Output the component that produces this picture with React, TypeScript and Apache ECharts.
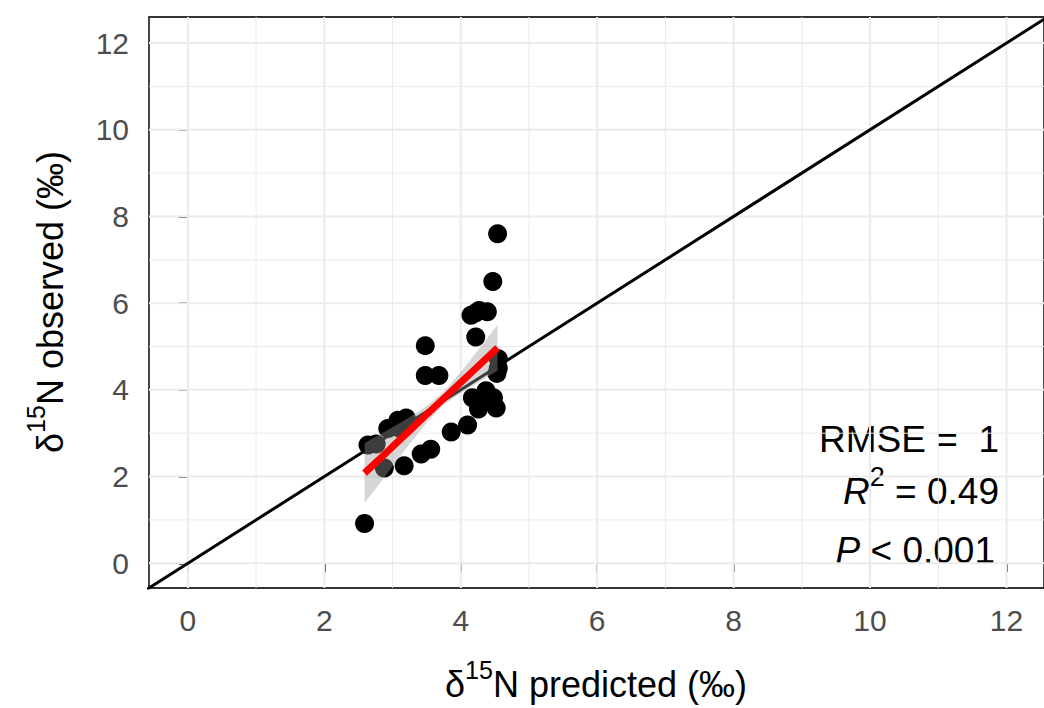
import React, { useEffect, useRef } from "react";
import * as echarts from "echarts";

// Observed vs predicted δ15N (‰)
const predicted = [
  4.54, 4.47, 4.15, 4.27, 4.39, 4.22, 4.22, 3.48, 3.48, 3.68,
  4.55, 4.55, 4.53, 4.17, 4.37, 4.48, 4.26, 4.52, 4.1, 3.86,
  4.3, 2.59, 2.88, 3.17, 3.42, 3.56, 2.64, 2.76, 2.93, 3.08,
  3.2, 3.1,
];
const observed = [
  7.6, 6.5, 5.72, 5.83, 5.8, 5.78, 5.22, 5.02, 4.33, 4.33,
  4.72, 4.5, 4.38, 3.82, 3.98, 3.82, 3.56, 3.58, 3.19, 3.03,
  3.72, 0.92, 2.2, 2.25, 2.52, 2.63, 2.73, 2.75, 3.11, 3.3,
  3.35, 3.12,
];

// Linear fit and its confidence band
const fitX = [2.59, 2.8, 3.0, 3.25, 3.5, 3.75, 4.0, 4.25, 4.54];
const fitY = [2.08, 2.39, 2.69, 3.06, 3.43, 3.8, 4.17, 4.54, 4.97];
const bandLower = [1.39, 1.82, 2.24, 2.75, 3.24, 3.65, 3.93, 4.17, 4.44];
const bandUpper = [2.77, 2.96, 3.14, 3.37, 3.62, 3.95, 4.41, 4.91, 5.5];

// 1:1 line end points
const identityLine = [-1, 13];

const majorTicks = [0, 2, 4, 6, 8, 10, 12];
const minorTicks = [1, 3, 5, 7, 9, 11];

const rmseText = "RMSE =  1";
const r2Value = "0.49";
const pValue = "0.001";

const FONT = "'Liberation Sans', Arial, Helvetica, sans-serif";

export default function App() {
  const ref = useRef<HTMLDivElement>(null);

  useEffect(() => {
    if (!ref.current) return;
    const chart = echarts.init(ref.current, null, { renderer: "svg" });

    const gridRender = (params: any, api: any) => {
      const cs = params.coordSys;
      const children: any[] = [];
      const addV = (v: number, w: number) => {
        const px = api.coord([v, 0])[0];
        children.push({
          type: "line",
          shape: { x1: px, y1: cs.y, x2: px, y2: cs.y + cs.height },
          style: { stroke: "#EBEBEB", lineWidth: w },
        });
      };
      const addH = (v: number, w: number) => {
        const py = api.coord([0, v])[1];
        children.push({
          type: "line",
          shape: { x1: cs.x, y1: py, x2: cs.x + cs.width, y2: py },
          style: { stroke: "#EBEBEB", lineWidth: w },
        });
      };
      minorTicks.forEach((v) => { addV(v, 1); addH(v, 1); });
      majorTicks.forEach((v) => { addV(v, 2); addH(v, 2); });
      return { type: "group", children };
    };

    const bandRender = (params: any, api: any) => {
      const pts: number[][] = [];
      fitX.forEach((x, i) => pts.push(api.coord([x, bandLower[i]])));
      for (let i = fitX.length - 1; i >= 0; i--) pts.push(api.coord([fitX[i], bandUpper[i]]));
      return {
        type: "polygon",
        shape: { points: pts },
        style: { fill: "rgba(153,153,153,0.4)", stroke: "none" },
      };
    };

    const mainStyle = (size: number, italic = false) => ({
      fontSize: size,
      fontFamily: FONT,
      fontStyle: italic ? "italic" : "normal",
      color: "#000",
      lineHeight: size * 1.25,
      verticalAlign: "bottom",
    });
    const supStyle = (size: number) => ({
      fontSize: size,
      fontFamily: FONT,
      color: "#000",
      lineHeight: size * 1.05,
      verticalAlign: "top",
    });

    const titleRich = { d: mainStyle(36), s: supStyle(25) };
    const statRich = { n: mainStyle(37), i: mainStyle(37, true), s: supStyle(27) };

    const axisCommon = {
      type: "value",
      axisLine: { show: false },
      splitLine: { show: false },
      minorSplitLine: { show: false },
    };

    const option = {
      animation: false,
      grid: {
        left: 149,
        top: 17,
        width: 896,
        height: 571,
        show: true,
        borderColor: "#333333",
        borderWidth: 1.8,
        backgroundColor: "transparent",
      },
      xAxis: {
        ...axisCommon,
        min: -0.57,
        max: 12.55,
        axisTick: {
          show: true,
          customValues: majorTicks,
          length: 9,
          lineStyle: { color: "#333333", width: 2 },
        },
        axisLabel: {
          customValues: majorTicks,
          fontSize: 30,
          color: "#4D4D4D",
          margin: 17,
          fontFamily: FONT,
        },
      },
      yAxis: {
        ...axisCommon,
        min: -0.57,
        max: 12.6,
        axisTick: {
          show: true,
          customValues: majorTicks,
          length: 9,
          lineStyle: { color: "#333333", width: 2 },
        },
        axisLabel: {
          customValues: majorTicks,
          fontSize: 30,
          color: "#4D4D4D",
          margin: 20,
          fontFamily: FONT,
        },
      },
      series: [
        {
          type: "custom",
          renderItem: gridRender,
          data: [[0, 0]],
          silent: true,
          z: 1,
        },
        {
          type: "line",
          data: identityLine.map((v) => [v, v]),
          symbol: "none",
          lineStyle: { color: "#000000", width: 3 },
          clip: true,
          silent: true,
          z: 2,
        },
        {
          type: "scatter",
          data: predicted.map((x, i) => [x, observed[i]]),
          symbolSize: 19,
          itemStyle: { color: "#000000", opacity: 1 },
          z: 3,
        },
        {
          type: "custom",
          renderItem: bandRender,
          data: [[fitX[0], fitY[0]]],
          silent: true,
          z: 4,
        },
        {
          type: "line",
          data: fitX.map((x, i) => [x, fitY[i]]),
          symbol: "none",
          lineStyle: { color: "#FF0000", width: 7 },
          silent: true,
          z: 5,
        },
      ],
      graphic: [
        {
          type: "text",
          x: 596,
          y: 680,
          silent: true,
          style: {
            text: "{d|δ}{s|15}{d|N predicted (‰)}",
            rich: titleRich,
            align: "center",
            verticalAlign: "middle",
          },
        },
        {
          type: "text",
          x: 46,
          y: 302,
          rotation: Math.PI / 2,
          silent: true,
          style: {
            text: "{d|δ}{s|15}{d|N observed (‰)}",
            rich: titleRich,
            align: "center",
            verticalAlign: "middle",
          },
        },
        {
          type: "text",
          x: 999,
          y: 435,
          silent: true,
          style: {
            text: "{n|" + rmseText + "}",
            rich: statRich,
            align: "right",
            verticalAlign: "middle",
          },
        },
        {
          type: "text",
          x: 999,
          y: 487,
          silent: true,
          style: {
            text: "{i|R}{s|2}{n| = " + r2Value + "}",
            rich: statRich,
            align: "right",
            verticalAlign: "middle",
          },
        },
        {
          type: "text",
          x: 995,
          y: 546,
          silent: true,
          style: {
            text: "{i|P}{n| < " + pValue + "}",
            rich: statRich,
            align: "right",
            verticalAlign: "middle",
          },
        },
      ],
    };

    chart.setOption(option as any);
    return () => chart.dispose();
  }, []);

  return (
    <div
      ref={ref}
      style={{ position: "fixed", left: 0, top: 0, width: 1044, height: 708, background: "#fff" }}
    />
  );
}
